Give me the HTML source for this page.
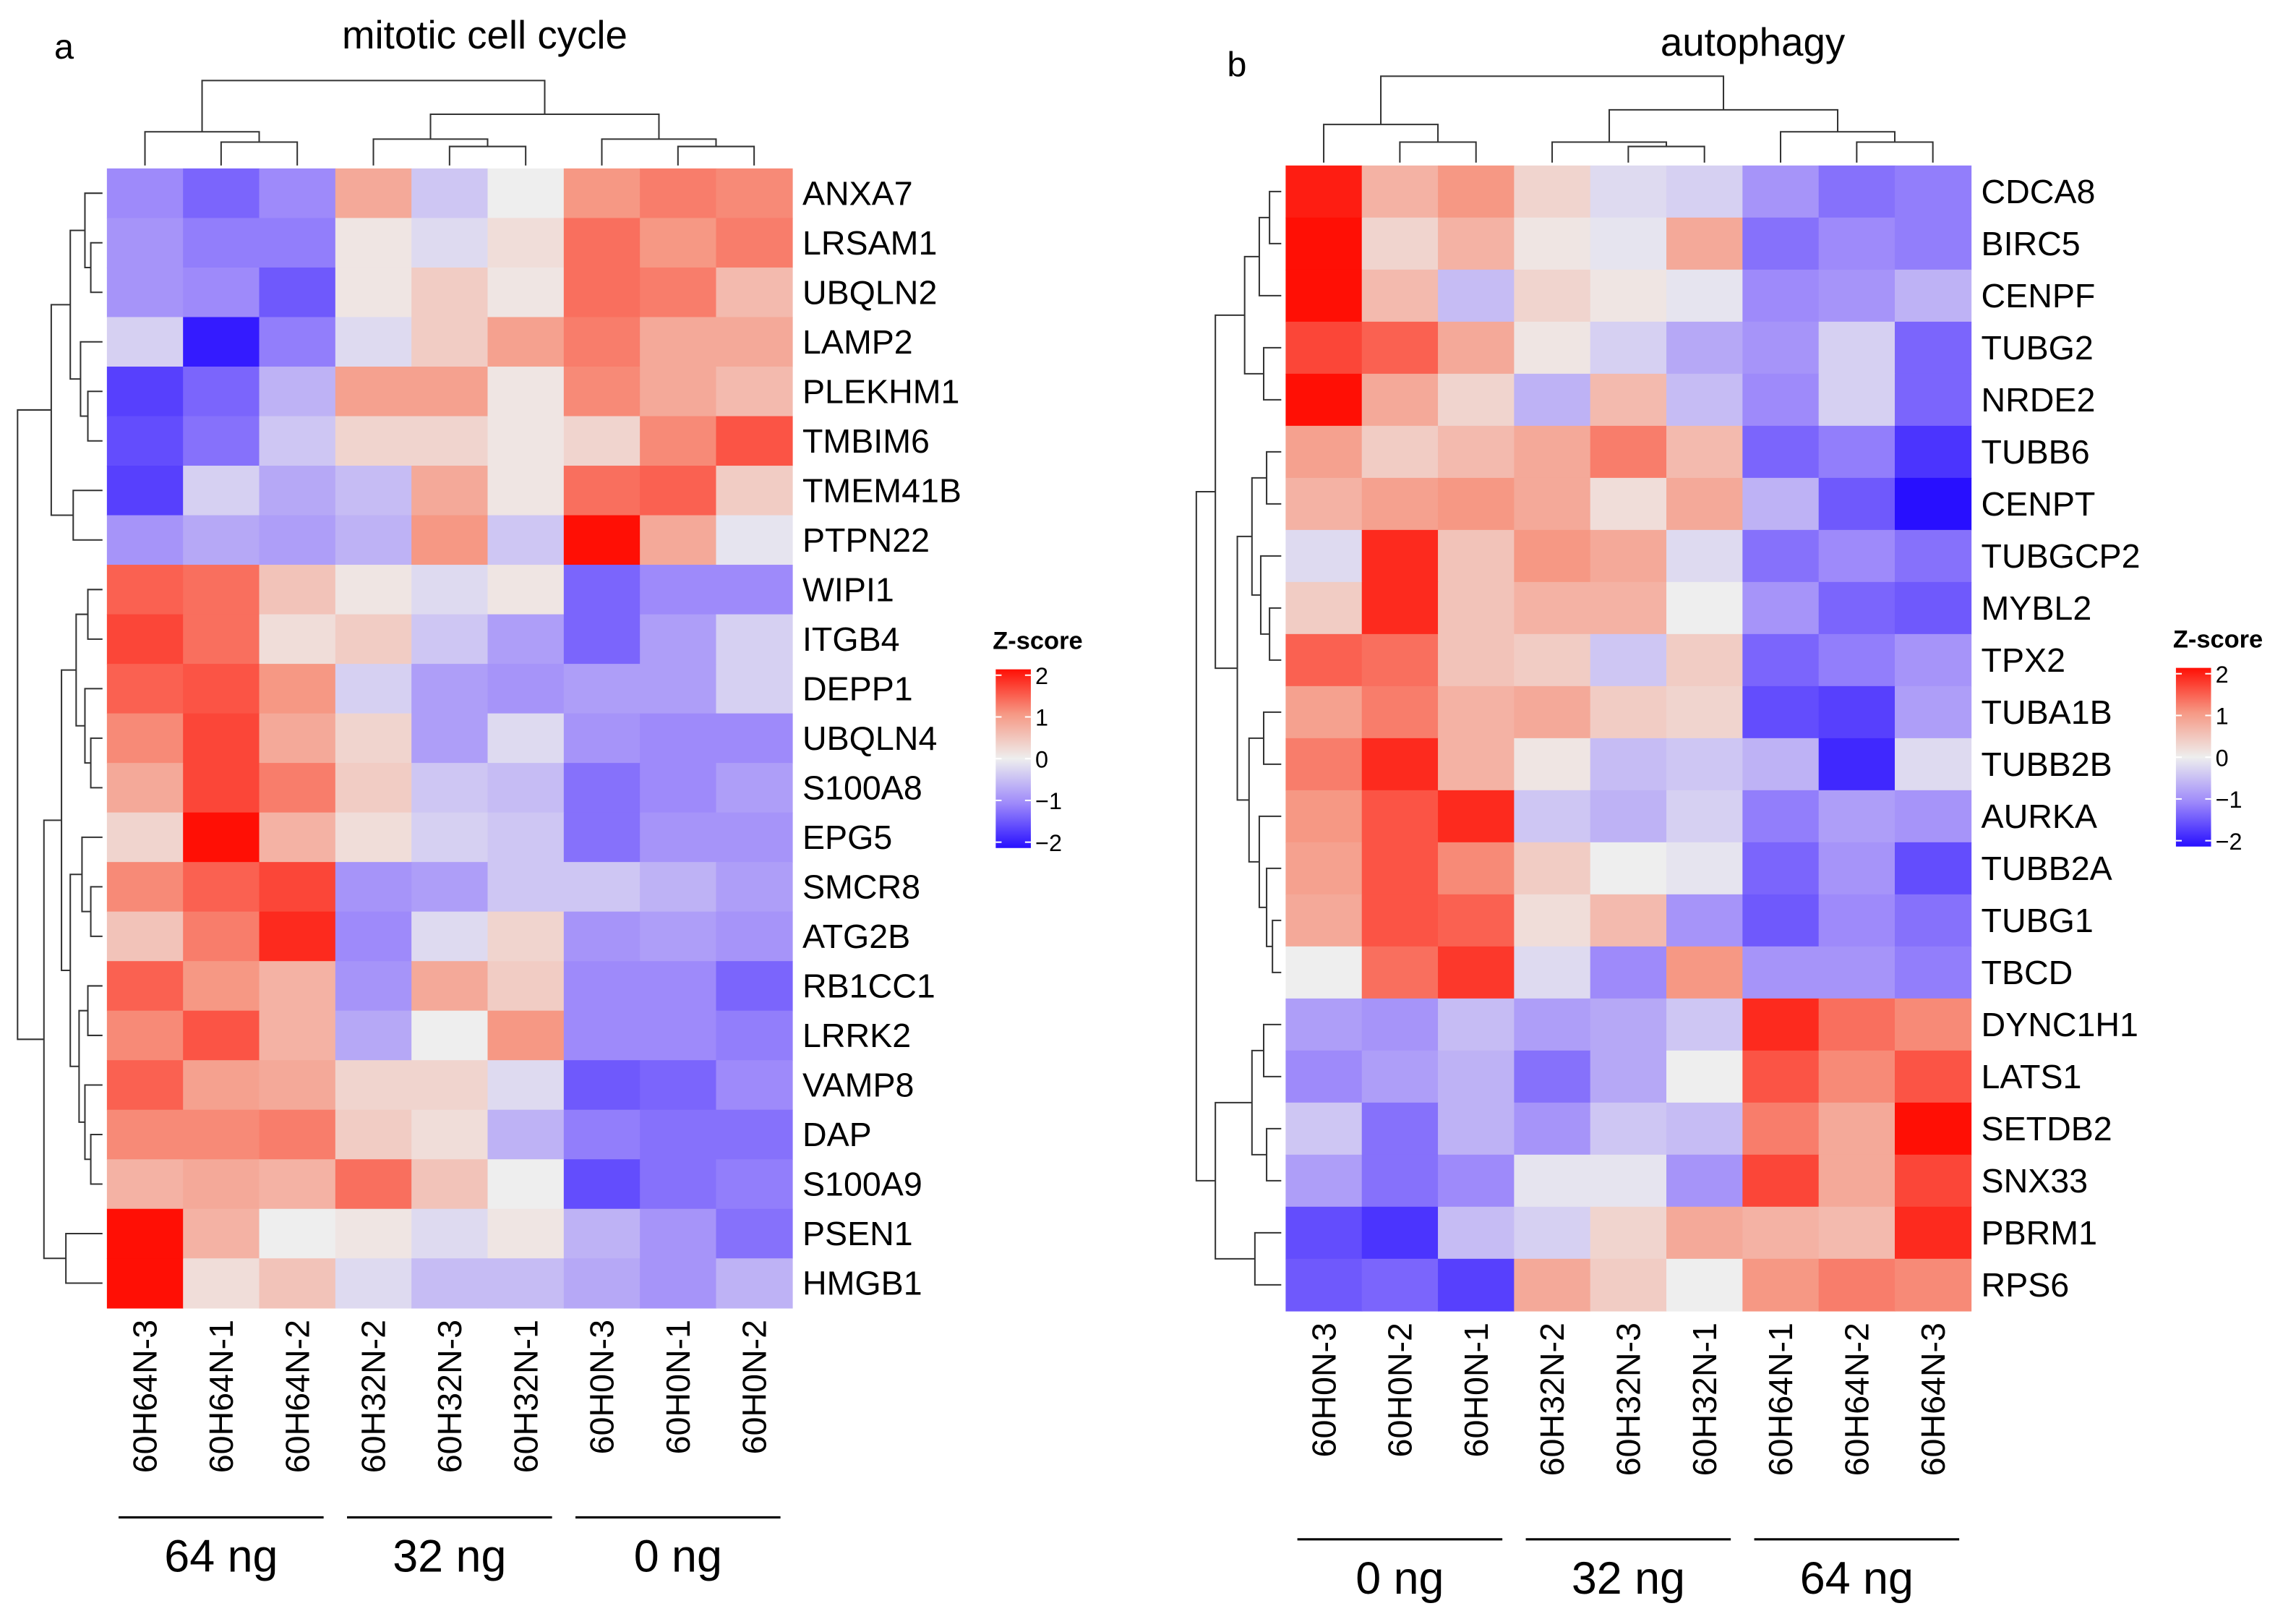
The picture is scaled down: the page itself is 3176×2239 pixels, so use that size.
<!DOCTYPE html>
<html><head><meta charset="utf-8"><style>
html,body{margin:0;padding:0;background:#fff}
svg{display:block;font-family:"Liberation Sans",Arial,sans-serif}
</style></head><body>
<svg id="fig" xmlns="http://www.w3.org/2000/svg" width="3176" height="2239" viewBox="0 0 1568 1105.4">
<rect width="1568" height="1105.4" fill="#fff"/>
<g id="pa"></g>
<g id="pb"></g>
</svg>
<script>
const rowsA=["ANXA7","LRSAM1","UBQLN2","LAMP2","PLEKHM1","TMBIM6","TMEM41B","PTPN22","WIPI1","ITGB4","DEPP1","UBQLN4","S100A8","EPG5","SMCR8","ATG2B","RB1CC1","LRRK2","VAMP8","DAP","S100A9","PSEN1","HMGB1"];
const colsA=["60H64N-3","60H64N-1","60H64N-2","60H32N-2","60H32N-3","60H32N-1","60H0N-3","60H0N-1","60H0N-2"];
const valsA=[
[-1.0,-1.3,-1.0,0.8,-0.4,0,1.0,1.2,1.1],
[-0.9,-1.1,-1.1,0.1,-0.2,0.2,1.3,1.0,1.2],
[-0.9,-1.0,-1.4,0.1,0.4,0.1,1.3,1.2,0.6],
[-0.3,-1.9,-1.1,-0.2,0.4,0.9,1.2,0.8,0.8],
[-1.6,-1.3,-0.6,0.9,0.9,0.1,1.1,0.8,0.6],
[-1.5,-1.2,-0.4,0.3,0.3,0.1,0.3,1.1,1.5],
[-1.6,-0.3,-0.7,-0.5,0.8,0.1,1.3,1.4,0.4],
[-0.9,-0.7,-0.8,-0.6,1.0,-0.4,2.0,0.8,-0.1],
[1.4,1.3,0.5,0.1,-0.2,0.1,-1.3,-1.0,-1.0],
[1.6,1.3,0.2,0.4,-0.4,-0.8,-1.3,-0.8,-0.3],
[1.4,1.5,1.0,-0.3,-0.8,-0.9,-0.8,-0.8,-0.3],
[1.1,1.6,0.8,0.3,-0.8,-0.2,-0.9,-1.0,-1.0],
[0.8,1.6,1.2,0.4,-0.4,-0.5,-1.2,-1.0,-0.8],
[0.3,2.0,0.7,0.2,-0.3,-0.4,-1.2,-0.9,-0.9],
[1.1,1.4,1.6,-0.9,-0.8,-0.4,-0.4,-0.6,-0.8],
[0.5,1.2,1.8,-1.0,-0.2,0.3,-0.9,-0.8,-0.9],
[1.4,1.0,0.7,-0.9,0.8,0.4,-1.0,-1.0,-1.3],
[1.1,1.5,0.7,-0.7,0,1.0,-1.0,-1.0,-1.1],
[1.4,0.9,0.8,0.3,0.3,-0.2,-1.4,-1.3,-1.0],
[1.1,1.1,1.2,0.4,0.2,-0.6,-1.1,-1.2,-1.2],
[0.7,0.8,0.7,1.3,0.5,0,-1.5,-1.2,-1.1],
[2.1,0.7,0,0.1,-0.2,0.1,-0.6,-0.9,-1.2],
[2.1,0.2,0.5,-0.2,-0.5,-0.5,-0.7,-0.9,-0.6]];
const rowsB=["CDCA8","BIRC5","CENPF","TUBG2","NRDE2","TUBB6","CENPT","TUBGCP2","MYBL2","TPX2","TUBA1B","TUBB2B","AURKA","TUBB2A","TUBG1","TBCD","DYNC1H1","LATS1","SETDB2","SNX33","PBRM1","RPS6"];
const colsB=["60H0N-3","60H0N-2","60H0N-1","60H32N-2","60H32N-3","60H32N-1","60H64N-1","60H64N-2","60H64N-3"];
const valsB=[
[1.9,0.7,1.0,0.3,-0.2,-0.3,-0.9,-1.2,-1.1],
[2.1,0.3,0.7,0.1,-0.1,0.8,-1.2,-1.0,-1.1],
[2.1,0.6,-0.5,0.3,0.1,-0.1,-1.0,-0.9,-0.6],
[1.6,1.4,0.8,0.1,-0.3,-0.7,-0.9,-0.3,-1.3],
[2.1,0.8,0.3,-0.6,0.6,-0.5,-1.0,-0.3,-1.3],
[0.9,0.4,0.6,0.8,1.2,0.6,-1.3,-1.1,-1.7],
[0.7,0.9,1.0,0.8,0.2,0.8,-0.6,-1.4,-2.0],
[-0.2,1.8,0.5,1.0,0.8,-0.2,-1.2,-1.0,-1.2],
[0.4,1.8,0.5,0.7,0.7,0,-0.9,-1.3,-1.4],
[1.4,1.3,0.5,0.4,-0.4,0.4,-1.3,-1.1,-0.9],
[0.9,1.2,0.7,0.8,0.4,0.3,-1.5,-1.6,-0.8],
[1.2,1.8,0.7,0.1,-0.5,-0.4,-0.6,-1.8,-0.2],
[1.0,1.5,1.8,-0.4,-0.6,-0.3,-1.1,-0.8,-0.9],
[0.9,1.5,1.1,0.4,0,-0.1,-1.3,-0.9,-1.5],
[0.8,1.5,1.4,0.2,0.6,-0.9,-1.4,-1.0,-1.2],
[0,1.3,1.7,-0.2,-1.0,1.0,-0.9,-0.9,-1.1],
[-0.8,-0.9,-0.5,-0.8,-0.7,-0.4,1.8,1.3,1.1],
[-1.0,-0.8,-0.6,-1.2,-0.7,0,1.5,1.1,1.5],
[-0.4,-1.2,-0.6,-0.9,-0.4,-0.5,1.2,0.8,2.1],
[-0.8,-1.2,-1.0,-0.1,-0.1,-0.9,1.6,0.8,1.6],
[-1.5,-1.7,-0.5,-0.3,0.3,0.8,0.7,0.6,1.8],
[-1.4,-1.3,-1.6,0.8,0.4,0,1.0,1.2,1.1]];
const groupsA=["64 ng","32 ng","0 ng"];
const groupsB=["0 ng","32 ng","64 ng"];
const legendTicks=[2,1,0,-1,-2];

const NS="http://www.w3.org/2000/svg";
function el(tag,attrs,parent,txt){const e=document.createElementNS(NS,tag);for(const k in attrs)e.setAttribute(k,attrs[k]);if(txt!==undefined)e.textContent=txt;parent.appendChild(e);return e;}
const STOPS=[[-2,[40,15,255]],[-1,[158,138,250]],[0,[238,238,238]],[1,[246,152,132]],[2,[255,15,5]]];
function color(v){v=Math.max(-2,Math.min(2,v));
 for(let k=0;k<STOPS.length-1;k++){const a=STOPS[k],b=STOPS[k+1];
  if(v<=b[0]){const t=(v-a[0])/(b[0]-a[0]);return `rgb(${a[1].map((c,i)=>Math.round(c+(b[1][i]-c)*t)).join(",")})`;}}
 return "rgb(255,15,5)";}
function leafPos(tree,pos){ if(typeof tree==="number")return {p:pos(tree),h:0}; const a=leafPos(tree[1],pos),b=leafPos(tree[2],pos); return {p:(a.p+b.p)/2,h:tree[0],a,b};}
function drawRowTree(g,tree,pos,x0){
 const n=leafPos(tree,pos);
 (function d(n){ if(!n.a)return; const x=x0-n.h;
  el("path",{d:`M${x0-n.a.h},${n.a.p}H${x}V${n.b.p}H${x0-n.b.h}`,fill:"none",stroke:"#333","stroke-width":1},g);
  d(n.a);d(n.b);})(n);}
function drawColTree(g,tree,pos,y0){
 const n=leafPos(tree,pos);
 (function d(n){ if(!n.a)return; const y=y0-n.h;
  el("path",{d:`M${n.a.p},${y0-n.a.h}V${y}H${n.b.p}V${y0-n.b.h}`,fill:"none",stroke:"#333","stroke-width":1},g);
  d(n.a);d(n.b);})(n);}

function panel(g,o){
 const cw=o.w/9, rh=o.h/o.rows.length;
 const X=i=>o.x+i*cw, Y=j=>o.y+j*rh;
 el("text",{x:o.lx,y:o.ly,"font-size":24,},g,o.letter);
 el("text",{x:o.tx,y:o.ty,"font-size":27,"text-anchor":"middle",},g,o.title);
 const hm=el("g",{},g);
 o.vals.forEach((r,j)=>r.forEach((v,i)=>{
  const c=el("rect",{x:X(i),y:Y(j),width:cw+0.4,height:rh+0.4,fill:color(v)},hm);
  
  
 }));
 o.rows.forEach((r,j)=>{const t=el("text",{x:o.x+o.w+7,y:Y(j)+rh/2+8,"font-size":23},g,r);
  });
 o.cols.forEach((c,i)=>{const cx=X(i)+cw/2+8;const t=el("text",{x:cx,y:o.y+o.h+8,"font-size":23,"text-anchor":"end",transform:`rotate(-90 ${cx} ${o.y+o.h+8})`},g,c);
  });
 o.groups.forEach((gname,k)=>{const x1=X(k*3)+8,x2=X(k*3+3)-8;
  const l=el("line",{x1:x1,x2:x2,y1:o.gy,y2:o.gy,stroke:"#000","stroke-width":1.5},g);
  
  const t=el("text",{x:(x1+x2)/2,y:o.gy+37,"font-size":31,"text-anchor":"middle"},g,gname);
  });
 const rd=el("g",{},g);
 drawRowTree(rd,o.rtree,j=>Y(j)+rh/2,o.x-3);
 const cd=el("g",{},g);
 drawColTree(cd,o.ctree,i=>X(i)+cw/2,o.y-2);
 const lg=el("g",{},g);
 const gid="grad"+o.letter;
 const defs=el("defs",{},lg);const gr=el("linearGradient",{id:gid,x1:0,y1:0,x2:0,y2:1},defs);
 [2,1.5,1,0.5,0,-0.5,-1,-1.5,-2].forEach((v,k)=>el("stop",{offset:k/8,"stop-color":color(v)},gr));
 el("text",{x:o.legx-2,y:o.legy-14,"font-size":17,"font-weight":"bold"},lg,"Z-score");
 el("rect",{x:o.legx,y:o.legy,width:24,height:122,fill:`url(#${gid})`},lg);
 legendTicks.forEach(v=>{const ty=o.legy+4+(2-v)/4*114;
  el("line",{x1:o.legx,x2:o.legx+4,y1:ty,y2:ty,stroke:"#fff"},lg);
  el("line",{x1:o.legx+20,x2:o.legx+24,y1:ty,y2:ty,stroke:"#fff"},lg);
  el("text",{x:o.legx+27,y:ty+6,"font-size":16},lg,v<0?"−"+(-v):String(v));});
}
panel(document.getElementById("pa"),{x:73,y:115,w:468,h:778,rows:rowsA,cols:colsA,vals:valsA,groups:groupsA,
 letter:"a",title:"mitotic cell cycle",tx:331,lx:37,ly:40,ty:33,gy:1036,legx:680,legy:457,
 rtree:[58,[35,[22,[12,0,[8,1,2]],[15,3,[10,4,5]]],[20,6,7]],[40,[28,[18,[10,8,9],[12,10,[8,11,12]]],[22,[14,13,[8,14,15]],[16,[10,16,17],[12,18,[8,19,20]]]]],[25,21,22]]],
 ctree:[58,[23,0,[16,1,2]],[35,[18,3,[13,4,5]],[18,6,[13,7,8]]]]});
panel(document.getElementById("pb"),{x:878,y:113,w:468,h:782,rows:rowsB,cols:colsB,vals:valsB,groups:groupsB,
 letter:"b",title:"autophagy",tx:1197,lx:838,ly:52,ty:38,gy:1051,legx:1486,legy:456,
 rtree:[58,[45,[25,[15,[8,0,1],2],[12,3,4]],[30,[20,[10,5,6],[14,7,[8,8,9]]],[22,[12,10,11],[15,12,[10,13,[6,14,15]]]]]],[45,[20,[12,16,17],[10,18,19]],[18,20,21]]],
 ctree:[59,[26,0,[14,1,2]],[36,[14,3,[11,4,5]],[21,6,[14,7,8]]]]});
</script>
</body></html>
